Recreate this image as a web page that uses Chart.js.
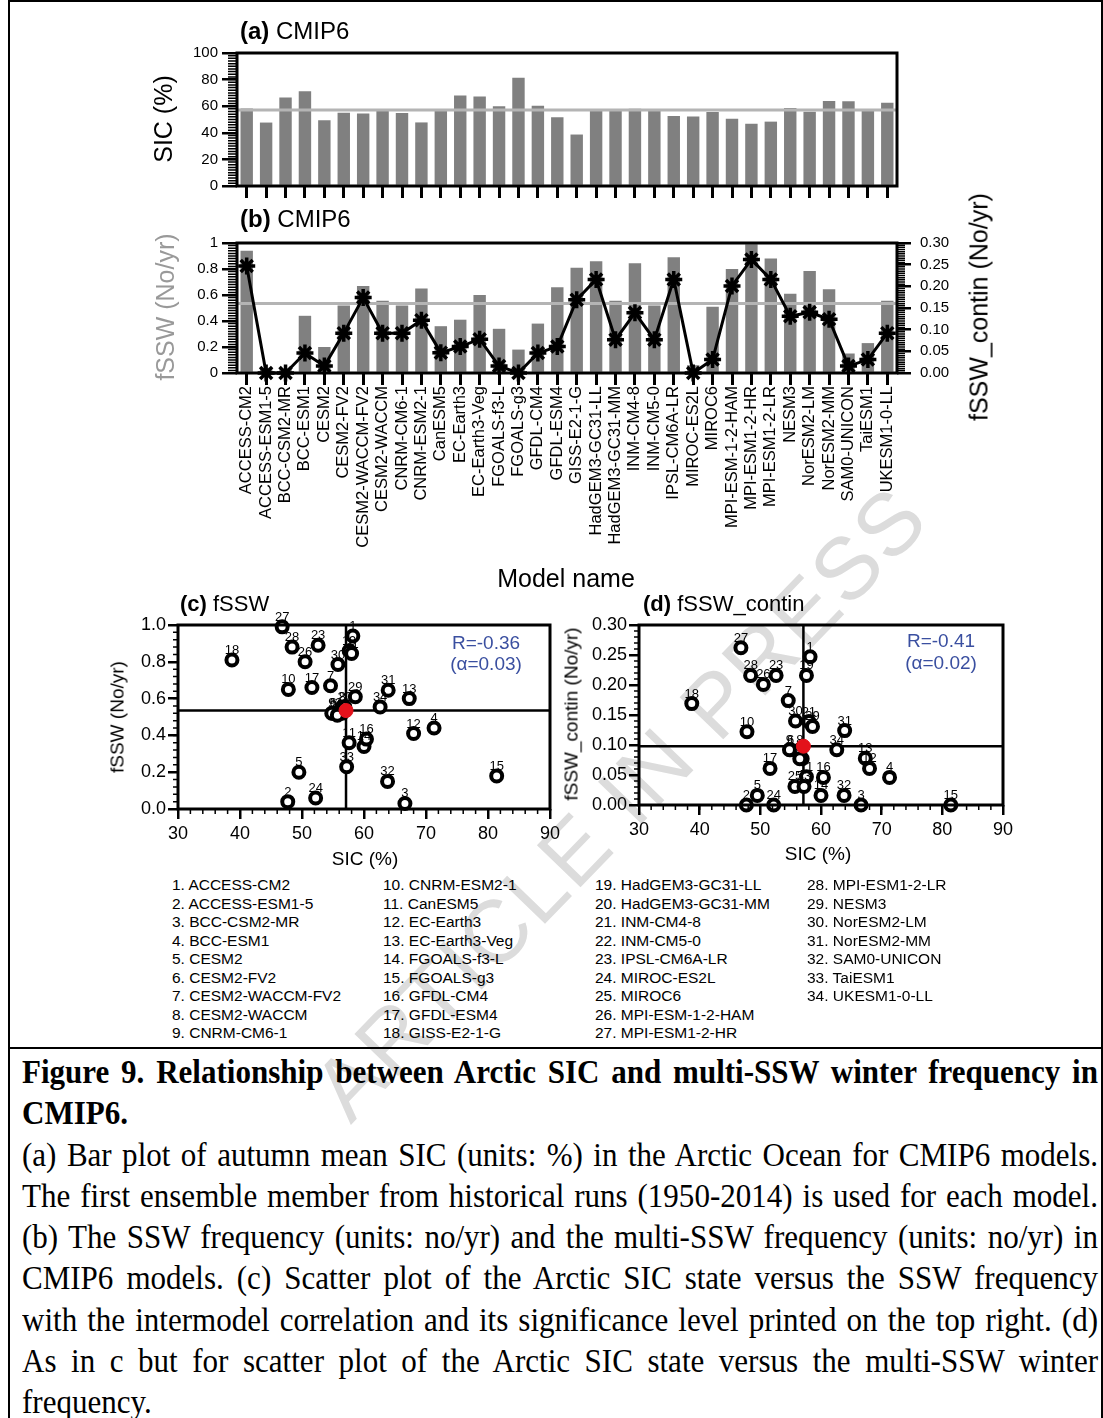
<!DOCTYPE html>
<html>
<head>
<meta charset="utf-8">
<script src="https://cdn.jsdelivr.net/npm/chart.js@4.4.1/dist/chart.umd.min.js"></script>
<style>
  html, body { margin: 0; padding: 0; background: #fff; }
  #page { position: relative; width: 1103px; height: 1418px; overflow: hidden; font-family: "Liberation Sans", Arial, sans-serif; color: #000; }
  canvas { position: absolute; z-index: 2; }
  .t { position: absolute; white-space: nowrap; line-height: 1; z-index: 3; }
  .c { transform: translate(-50%, -50%); }
  .l { transform: translateY(-50%); }
  .r90 { transform: translate(-50%, -50%) rotate(-90deg); }
  .blue { color: #3a4fa0; }
  .legend { position: absolute; top: 876px; font-size: 15.5px; line-height: 18.5px; white-space: nowrap; z-index: 3; }
  .frame { position: absolute; background: #000; z-index: 3; }
  #wm { position: absolute; left: 620px; top: 803px; transform: translate(-50%, -50%) rotate(-46deg);
        font-size: 88px; color: #dcdcdc; white-space: nowrap; z-index: 1; letter-spacing: 2px; }
  #caption { position: absolute; left: 22px; top: 1052px; width: 1300px; font-family: "Liberation Serif", "Times New Roman", serif;
             font-size: 33px; line-height: 41.3px; z-index: 3; }
  #caption div { white-space: nowrap; transform-origin: 0 0; }
  #caption .b { font-weight: bold; }
</style>
</head>
<body>
<div id="page">
  <div id="wm">ARTICLE IN PRESS</div>

  <div class="frame" style="left:8px; top:0; width:2px; height:1418px;"></div>
  <div class="frame" style="left:8px; top:0; width:1095px; height:2px;"></div>
  <div class="frame" style="left:1101px; top:0; width:2px; height:1418px;"></div>
  <div class="frame" style="left:8px; top:1047px; width:1095px; height:2px;"></div>

  <canvas id="cA" width="850" height="175" style="left:100px; top:40px;"></canvas>
  <canvas id="cB" width="880" height="340" style="left:100px; top:225px;"></canvas>
  <canvas id="cC" width="520" height="260" style="left:50px; top:610px;"></canvas>
  <canvas id="cD" width="520" height="260" style="left:510px; top:610px;"></canvas>

  <div class="t l" style="left:240px; top:31px; font-size:24px;"><b>(a)</b> CMIP6</div>
  <div class="t l" style="left:240px; top:219px; font-size:24px;"><b>(b)</b> CMIP6</div>
  <div class="t r90" style="left:163px; top:119px; font-size:25px;">SIC (%)</div>
  <div class="t r90" style="left:165px; top:307px; font-size:25px; color:#999;">fSSW (No/yr)</div>
  <div class="t r90" style="left:979px; top:307px; font-size:25px;">fSSW_contin (No/yr)</div>
  <div class="t c" style="left:566px; top:578px; font-size:25px;">Model name</div>

  <div class="t l" style="left:180px; top:604px; font-size:22px;"><b>(c)</b> fSSW</div>
  <div class="t l" style="left:643px; top:604px; font-size:22px;"><b>(d)</b> fSSW_contin</div>
  <div class="t r90" style="left:117px; top:717px; font-size:19px;">fSSW (No/yr)</div>
  <div class="t r90" style="left:571px; top:714px; font-size:19px;">fSSW_contin (No/yr)</div>
  <div class="t c" style="left:365px; top:858px; font-size:19px;">SIC (%)</div>
  <div class="t c" style="left:818px; top:853px; font-size:19px;">SIC (%)</div>
  <div class="t c blue" style="left:486px; top:642px; font-size:19px;">R=-0.36</div>
  <div class="t c blue" style="left:486px; top:663px; font-size:19px;">(α=0.03)</div>
  <div class="t c blue" style="left:941px; top:640px; font-size:19px;">R=-0.41</div>
  <div class="t c blue" style="left:941px; top:662px; font-size:19px;">(α=0.02)</div>

  <div class="legend" id="leg1" style="left:172px;"></div>
  <div class="legend" id="leg2" style="left:383px;"></div>
  <div class="legend" id="leg3" style="left:595px;"></div>
  <div class="legend" id="leg4" style="left:807px;"></div>

  <div id="caption">
    <div class="b">Figure 9. Relationship between Arctic SIC and multi-SSW winter frequency in</div>
    <div class="b last">CMIP6.</div>
    <div>(a) Bar plot of autumn mean SIC (units: %) in the Arctic Ocean for CMIP6 models.</div>
    <div>The first ensemble member from historical runs (1950-2014) is used for each model.</div>
    <div>(b) The SSW frequency (units: no/yr) and the multi-SSW frequency (units: no/yr) in</div>
    <div>CMIP6 models. (c) Scatter plot of the Arctic SIC state versus the SSW frequency</div>
    <div>with the intermodel correlation and its significance level printed on the top right. (d)</div>
    <div>As in c but for scatter plot of the Arctic SIC state versus the multi-SSW winter</div>
    <div class="last">frequency.</div>
  </div>
</div>

<script>
// -----------------------------
// DATA
// -----------------------------
const models = ["ACCESS-CM2", "ACCESS-ESM1-5", "BCC-CSM2-MR", "BCC-ESM1", "CESM2", "CESM2-FV2",
  "CESM2-WACCM-FV2", "CESM2-WACCM", "CNRM-CM6-1", "CNRM-ESM2-1", "CanESM5", "EC-Earth3",
  "EC-Earth3-Veg", "FGOALS-f3-L", "FGOALS-g3", "GFDL-CM4", "GFDL-ESM4", "GISS-E2-1-G",
  "HadGEM3-GC31-LL", "HadGEM3-GC31-MM", "INM-CM4-8", "INM-CM5-0", "IPSL-CM6A-LR", "MIROC-ES2L",
  "MIROC6", "MPI-ESM-1-2-HAM", "MPI-ESM1-2-HR", "MPI-ESM1-2-LR", "NESM3", "NorESM2-LM",
  "NorESM2-MM", "SAM0-UNICON", "TaiESM1", "UKESM1-0-LL"];

// autumn mean SIC (%)
const sic = [58.2, 47.7, 66.6, 71.3, 49.5, 55.0, 54.6, 56.5, 54.8, 47.8, 57.6, 68.0,
  67.3, 60.0, 81.4, 60.4, 51.6, 38.7, 57.6, 56.9, 58.0, 56.5, 52.6, 52.2,
  55.7, 50.5, 46.8, 48.4, 58.6, 55.8, 63.9, 63.8, 57.2, 62.6];

// SSW frequency (No/yr)
const fssw = [0.94, 0.04, 0.03, 0.44, 0.20, 0.52, 0.67, 0.555, 0.52, 0.65, 0.36, 0.41,
  0.60, 0.34, 0.18, 0.38, 0.66, 0.81, 0.86, 0.555, 0.845, 0.52, 0.89, 0.06,
  0.51, 0.80, 0.99, 0.88, 0.61, 0.785, 0.645, 0.15, 0.23, 0.555];

// multi-SSW winter frequency (No/yr)
const contin = [0.247, 0, 0, 0.046, 0.016, 0.092, 0.174, 0.092, 0.092, 0.122, 0.047, 0.061,
  0.078, 0.016, 0, 0.046, 0.061, 0.169, 0.216, 0.077, 0.139, 0.077, 0.216, 0,
  0.031, 0.201, 0.262, 0.216, 0.131, 0.140, 0.124, 0.016, 0.031, 0.092];

// multi-model means (grey lines / red dots)
const sicMean = 57.1;
const fsswMean = 0.535;
const continMean = 0.098;

// -----------------------------
// LEGEND
// -----------------------------
const legendCols = [[0, 9], [9, 18], [18, 27], [27, 34]];
legendCols.forEach((c, k) => {
  document.getElementById('leg' + (k + 1)).innerHTML =
    models.slice(c[0], c[1]).map((m, i) => (c[0] + i + 1) + '. ' + m).join('<br>');
});

// -----------------------------
// CAPTION: slightly condensed, justified, fixed line breaks
// -----------------------------
const CAP_W = 1076, SQUEEZE = 0.94;
document.querySelectorAll('#caption div').forEach(d => {
  d.style.display = 'inline-block';
  const w = d.getBoundingClientRect().width;
  const gaps = (d.textContent.match(/ /g) || []).length;
  if (!d.classList.contains('last') && gaps > 0) {
    d.style.wordSpacing = ((CAP_W / SQUEEZE - w) / gaps) + 'px';
  }
  d.style.display = 'block';
  d.style.transform = 'scaleX(' + SQUEEZE + ')';
});

// -----------------------------
// PLUGINS
// -----------------------------
Chart.defaults.font.family = '"Liberation Sans", Arial, sans-serif';
Chart.defaults.color = '#000';

function framePlugin(minor, boxWidth) {
  return {
    id: 'frame',
    afterDraw(chart) {
      const ctx = chart.ctx, a = chart.chartArea;
      ctx.save();
      ctx.strokeStyle = '#000';
      minor.forEach(m => {
        const s = chart.scales[m.axis];
        const n = Math.round((s.max - s.min) / m.step);
        ctx.lineWidth = m.width;
        ctx.beginPath();
        for (let i = 0; i <= n; i++) {
          const p = s.getPixelForValue(s.min + i * m.step);
          if (m.side === 'left') { ctx.moveTo(a.left, p); ctx.lineTo(a.left - m.len, p); }
          else if (m.side === 'right') { ctx.moveTo(a.right, p); ctx.lineTo(a.right + m.len, p); }
          else { ctx.moveTo(p, a.bottom); ctx.lineTo(p, a.bottom + m.len); }
        }
        ctx.stroke();
      });
      ctx.lineWidth = boxWidth;
      ctx.strokeRect(a.left, a.top, a.right - a.left, a.bottom - a.top);
      ctx.restore();
    }
  };
}

function refPlugin(lines, at) {
  const draw = chart => {
    const ctx = chart.ctx, a = chart.chartArea;
    ctx.save();
    lines.forEach(l => {
      const s = chart.scales[l.axis];
      const p = s.getPixelForValue(l.value);
      ctx.strokeStyle = l.color;
      ctx.lineWidth = l.width;
      ctx.beginPath();
      if (s.isHorizontal()) { ctx.moveTo(p, a.top); ctx.lineTo(p, a.bottom); }
      else { ctx.moveTo(a.left, p); ctx.lineTo(a.right, p); }
      ctx.stroke();
    });
    ctx.restore();
  };
  return {
    id: 'refLines',
    beforeDatasetsDraw(chart) { if (at === 'before') draw(chart); },
    afterDatasetDraw(chart, args) { if (at === args.index) draw(chart); },
    afterDatasetsDraw(chart) { if (at === 'after') draw(chart); }
  };
}

const numLabels = {
  id: 'numLabels',
  afterDatasetDraw(chart, args) {
    if (args.index !== 0) return;
    const ctx = chart.ctx;
    ctx.save();
    ctx.font = '13px "Liberation Sans", Arial, sans-serif';
    ctx.fillStyle = '#000';
    ctx.textAlign = 'center';
    ctx.textBaseline = 'alphabetic';
    args.meta.data.forEach((pt, i) => ctx.fillText(String(i + 1), pt.x, pt.y - 6));
    ctx.restore();
  }
};

const fixW = w => s => { s.width = w; };
const fixH = h => s => { s.height = h; };

const tickGrid = (len, w) => ({
  drawOnChartArea: false, tickLength: len, tickWidth: w, tickColor: '#000', lineWidth: w, color: '#000'
});

// 0 and 1 without decimals, like the original axis
const unitTick = v => Math.abs(v) < 1e-9 ? '0' : (Math.abs(v - 1) < 1e-9 ? '1' : v.toFixed(1));

// -----------------------------
// (a) SIC BAR CHART
// -----------------------------
new Chart(document.getElementById('cA'), {
  type: 'bar',
  data: {
    labels: models,
    datasets: [{ data: sic, backgroundColor: '#808080', barPercentage: 0.64, categoryPercentage: 1 }]
  },
  options: {
    responsive: false, animation: false,
    layout: { padding: { top: 13, right: 53, left: 0, bottom: 0 } },
    plugins: { legend: { display: false }, tooltip: { enabled: false } },
    scales: {
      x: {
        offset: true,
        grid: Object.assign(tickGrid(12, 3), { offset: false }),
        border: { display: false },
        ticks: { display: false },
        afterFit: fixH(29)
      },
      y: {
        min: 0, max: 100,
        ticks: { stepSize: 20, font: { size: 15 }, padding: 4 },
        grid: tickGrid(15, 2.5),
        border: { display: false },
        afterFit: fixW(137)
      }
    }
  },
  plugins: [
    refPlugin([{ axis: 'y', value: sicMean, color: '#b4b4b4', width: 3 }], 'after'),
    framePlugin([{ axis: 'y', side: 'left', step: 2, len: 9, width: 1.5 }], 3)
  ]
});

// -----------------------------
// (b) fSSW BARS + fSSW_contin LINE
// -----------------------------
new Chart(document.getElementById('cB'), {
  type: 'bar',
  data: {
    labels: models,
    datasets: [
      { data: fssw, yAxisID: 'y', order: 1, backgroundColor: '#808080', barPercentage: 0.64, categoryPercentage: 1 },
      {
        type: 'line', data: contin, yAxisID: 'y2', order: 0,
        borderColor: '#000', borderWidth: 3, tension: 0, clip: false,
        pointStyle: 'star', pointRadius: 8.5, pointBorderWidth: 3.5,
        pointBorderColor: '#000', pointBackgroundColor: '#000'
      }
    ]
  },
  options: {
    responsive: false, animation: false,
    layout: { padding: { top: 16, right: 0, left: 0, bottom: 0 } },
    plugins: { legend: { display: false }, tooltip: { enabled: false } },
    scales: {
      x: {
        offset: true,
        grid: Object.assign(tickGrid(12, 3), { offset: false }),
        border: { display: false },
        ticks: { autoSkip: false, minRotation: 90, maxRotation: 90, font: { size: 16.5 }, padding: 1 },
        afterFit: fixH(192)
      },
      y: {
        position: 'left', min: 0, max: 1,
        ticks: { stepSize: 0.2, font: { size: 15 }, padding: 4, callback: unitTick },
        grid: tickGrid(15, 2.5),
        border: { display: false },
        afterFit: fixW(137)
      },
      y2: {
        position: 'right', min: 0, max: 0.3,
        ticks: { stepSize: 0.05, font: { size: 15 }, padding: 9, callback: v => v.toFixed(2) },
        grid: tickGrid(14, 2.5),
        border: { display: false },
        afterFit: fixW(83)
      }
    }
  },
  plugins: [
    refPlugin([{ axis: 'y', value: fsswMean, color: '#b4b4b4', width: 3 }], 0),
    framePlugin([
      { axis: 'y', side: 'left', step: 0.02, len: 9, width: 1.5 },
      { axis: 'y2', side: 'right', step: 0.005, len: 8, width: 1.5 }
    ], 3)
  ]
});

// -----------------------------
// (c) / (d) SCATTER PLOTS
// -----------------------------
function scatterChart(id, yVals, yMean, yMax, yStep, yMinor, yDigits, yWidth, xHeight, padRight) {
  return new Chart(document.getElementById(id), {
    type: 'scatter',
    data: {
      datasets: [
        {
          data: sic.map((x, i) => ({ x: x, y: yVals[i] })), order: 1, clip: false,
          pointRadius: 5.5, pointBorderWidth: 4, pointBorderColor: '#000', pointBackgroundColor: '#fff'
        },
        {
          data: [{ x: sicMean, y: yMean }], order: 0, clip: false,
          pointRadius: 7, pointBorderWidth: 1, pointBorderColor: '#e3121b', pointBackgroundColor: '#e3121b'
        }
      ]
    },
    options: {
      responsive: false, animation: false,
      layout: { padding: { top: 15, right: padRight, left: 0, bottom: 0 } },
      plugins: { legend: { display: false }, tooltip: { enabled: false } },
      scales: {
        x: {
          type: 'linear', min: 30, max: 90,
          ticks: { stepSize: 10, font: { size: 18 }, padding: 4 },
          grid: tickGrid(10, 2.5),
          border: { display: false },
          afterFit: fixH(xHeight)
        },
        y: {
          min: 0, max: yMax,
          ticks: { stepSize: yStep, font: { size: 18 }, padding: 2, callback: v => v.toFixed(yDigits) },
          grid: tickGrid(10, 2.5),
          border: { display: false },
          afterFit: fixW(yWidth)
        }
      }
    },
    plugins: [
      refPlugin([
        { axis: 'x', value: sicMean, color: '#000', width: 2.5 },
        { axis: 'y', value: yMean, color: '#000', width: 2.5 }
      ], 'before'),
      numLabels,
      framePlugin([
        { axis: 'x', side: 'bottom', step: 2, len: 5, width: 1.5 },
        { axis: 'y', side: 'left', step: yMinor, len: 5, width: 1.5 }
      ], 3)
    ]
  });
}

scatterChart('cC', fssw, fsswMean, 1, 0.2, 0.04, 1, 128, 61, 20);
scatterChart('cD', contin, continMean, 0.3, 0.05, 0.01, 2, 129, 65, 27);
</script>
</body>
</html>
